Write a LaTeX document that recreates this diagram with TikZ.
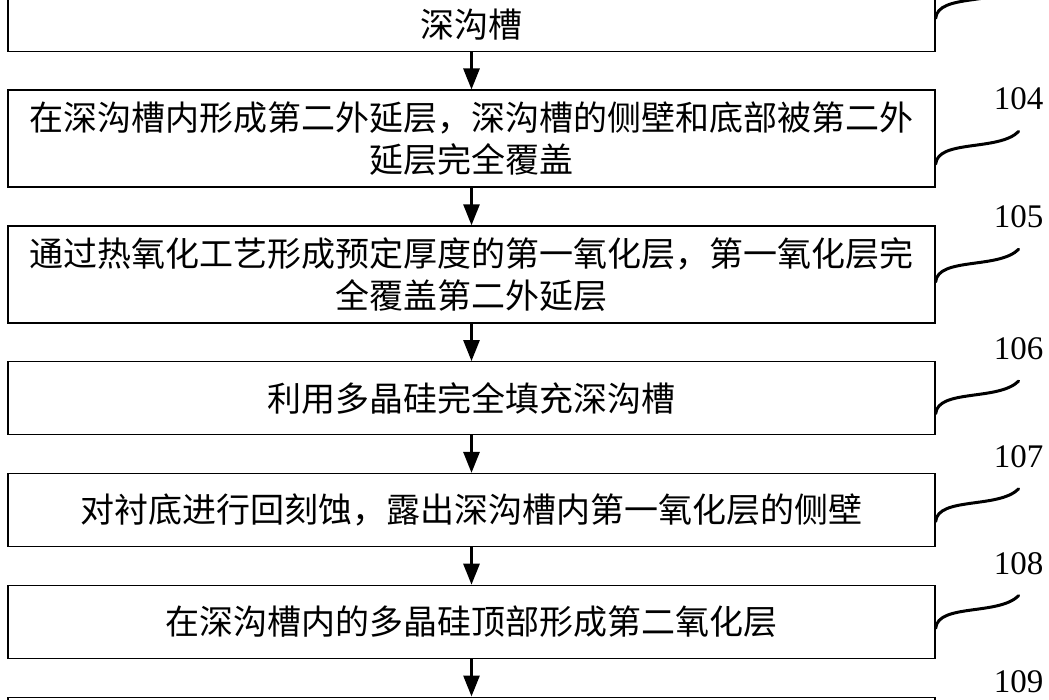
\documentclass[tikz,border=0pt]{standalone}
\usepackage{fontspec}
\setmainfont{Liberation Serif}
\newfontfamily\cjk{Noto Sans CJK SC}
\usetikzlibrary{positioning,arrows.meta}

\begin{document}
\begin{tikzpicture}[x=1pt, y=1pt, node distance=37.5pt,
  box/.style={draw, line width=1.3pt, minimum width=927pt, minimum height=73pt, align=center, font=\cjk\fontsize{34pt}{42pt}\selectfont},
  tall/.style={box, minimum height=97pt},
  num/.style={inner sep=0pt, font=\fontsize{33pt}{36pt}\selectfont},
  flow/.style={line width=2.8pt, -{Triangle[width=16pt, length=21pt]}},
  wave/.style={line width=3pt, line cap=round}]
  \useasboundingbox (0,0) rectangle (1049,-700);

  \node[box, anchor=south, text height=110pt, text depth=4pt, inner ysep=10pt] (trench) at (471.5,-52) {深沟槽};
  \node[tall, below=of trench](epitaxy){在深沟槽内形成第二外延层，深沟槽的侧壁和底部被第二外\\延层完全覆盖};
  \node[tall, below=of epitaxy](oxidation){通过热氧化工艺形成预定厚度的第一氧化层，第一氧化层完\\全覆盖第二外延层};
  \node[box, below=of oxidation](fill){利用多晶硅完全填充深沟槽};
  \node[box, below=of fill](etchback){对衬底进行回刻蚀，露出深沟槽内第一氧化层的侧壁};
  \node[box, below=of etchback](capoxide){在深沟槽内的多晶硅顶部形成第二氧化层};
  \node[box, below=of capoxide](next){};

  \draw[flow] (trench) -- (epitaxy);
  \draw[flow] (epitaxy) -- (oxidation);
  \draw[flow] (oxidation) -- (fill);
  \draw[flow] (fill) -- (etchback);
  \draw[flow] (etchback) -- (capoxide);
  \draw[flow] (capoxide) -- (next);

  % step numbers
  \coordinate (w103) at ([xshift=83pt, yshift=-1pt]trench.east);
  \node[num] (n104) at ([xshift=83pt, yshift=39.5pt]epitaxy.east) {104};
  \node[num] (n105) at ([xshift=83pt, yshift=57.5pt]oxidation.east) {105};
  \node[num] (n106) at ([xshift=83pt, yshift=49.5pt]fill.east) {106};
  \node[num] (n107) at ([xshift=83pt, yshift=53.5pt]etchback.east) {107};
  \node[num] (n108) at ([xshift=83pt, yshift=58.5pt]capoxide.east) {108};
  \node[num] (n109) at ([xshift=83pt, yshift=52pt]next.east) {109};

  \draw[wave] ([yshift=-34pt]trench.east) .. controls +(2,25) and +(-20,-20) .. (w103);
  \draw[wave] ([yshift=-25.5pt]epitaxy.east) .. controls +(2,25) and +(-20,-20) .. ([yshift=-21pt]n104.south);
  \draw[wave] ([yshift=-7.5pt]oxidation.east) .. controls +(2,25) and +(-20,-20) .. ([yshift=-21pt]n105.south);
  \draw[wave] ([yshift=-15.5pt]fill.east) .. controls +(2,25) and +(-20,-20) .. ([yshift=-21pt]n106.south);
  \draw[wave] ([yshift=-11.5pt]etchback.east) .. controls +(2,25) and +(-20,-20) .. ([yshift=-21pt]n107.south);
  \draw[wave] ([yshift=-6.5pt]capoxide.east) .. controls +(2,25) and +(-20,-20) .. ([yshift=-21pt]n108.south);
\end{tikzpicture}
\end{document}
